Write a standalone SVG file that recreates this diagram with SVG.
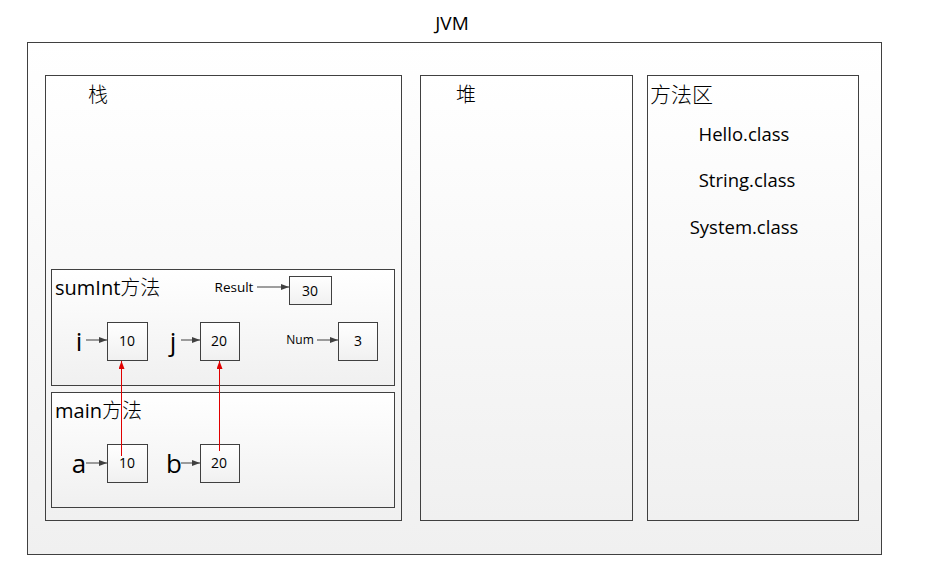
<svg xmlns="http://www.w3.org/2000/svg" width="937" height="583" viewBox="0 0 937 583">
<style>
.box{stroke:#404040;stroke-width:1;fill:url(#g)}
.t{font-family:"Open Sans","Liberation Sans","Noto Sans CJK SC",sans-serif;fill:#000}
.cjk{font-family:"Noto Sans CJK SC",sans-serif;fill:#000;font-weight:300}
.arr{stroke:#404040;stroke-width:1;fill:none;marker-end:url(#ah)}
.red{stroke:#e00000;stroke-width:1;fill:none;marker-end:url(#rh)}
</style>
<defs>
<linearGradient id="g" x1="0" y1="0" x2="0" y2="1">
<stop offset="0" stop-color="#ffffff"/>
<stop offset="1" stop-color="#f0f0f0"/>
</linearGradient>
<marker id="ah" markerWidth="8" markerHeight="6" refX="8" refY="3" orient="auto" markerUnits="userSpaceOnUse">
<path d="M0,0 L8,3 L0,6 z" fill="#404040"/>
</marker>
<marker id="rh" markerWidth="8" markerHeight="6" refX="8" refY="3" orient="auto" markerUnits="userSpaceOnUse">
<path d="M0,0 L8,3 L0,6 z" fill="#e00000"/>
</marker>
</defs>
<rect width="937" height="583" fill="#fff"/>
<text class="t" x="452" y="30" font-size="19" text-anchor="middle">JVM</text>
<g id="jvm"><rect class="box" x="27.5" y="42.5" width="854" height="512"/></g>
<g id="stack"><rect class="box" x="45.5" y="75.5" width="356" height="445"/>
<text class="cjk" x="98" y="102" font-size="20" text-anchor="middle">栈</text></g>
<g id="heap"><rect class="box" x="420.5" y="75.5" width="212" height="445"/>
<text class="cjk" x="466" y="102" font-size="20" text-anchor="middle">堆</text></g>
<g id="method"><rect class="box" x="647.5" y="75.5" width="211" height="445"/>
<text class="cjk" x="650" y="102" font-size="21">方法区</text>
<text class="t" x="744" y="141" font-size="18.5" text-anchor="middle">Hello.class</text>
<text class="t" x="747" y="187" font-size="18.5" text-anchor="middle">String.class</text>
<text class="t" x="744" y="234" font-size="18.5" text-anchor="middle">System.class</text></g>
<g id="sumInt"><rect class="box" x="51.5" y="269.5" width="343" height="116"/>
<text x="55" y="295" font-size="20"><tspan class="t">sumInt</tspan><tspan class="cjk">方法</tspan></text>
<text class="t" x="234" y="292" font-size="13.5" text-anchor="middle">Result</text>
<text class="t" x="300" y="344" font-size="12" text-anchor="middle">Num</text>
<text class="t" x="79" y="351" font-size="26" text-anchor="middle">i</text>
<text class="t" x="173" y="351" font-size="26" text-anchor="middle">j</text></g>
<g id="i10"><rect class="box" x="107.5" y="322.5" width="40" height="38"/><text class="t" x="127" y="346" font-size="14" text-anchor="middle">10</text></g>
<g id="j20"><rect class="box" x="200.5" y="322.5" width="39" height="38"/><text class="t" x="219" y="346" font-size="14" text-anchor="middle">20</text></g>
<g id="r30"><rect class="box" x="289.5" y="276.5" width="42" height="28"/><text class="t" x="310" y="296" font-size="14" text-anchor="middle">30</text></g>
<g id="num3"><rect class="box" x="338.5" y="322.5" width="39" height="38"/><text class="t" x="358" y="346" font-size="14" text-anchor="middle">3</text></g>
<g id="main"><rect class="box" x="51.5" y="392.5" width="343" height="115"/>
<text x="55" y="418" font-size="20"><tspan class="t">main</tspan><tspan class="cjk">方法</tspan></text>
<text class="t" x="79" y="473" font-size="26" text-anchor="middle">a</text>
<text class="t" x="174" y="473" font-size="26" text-anchor="middle">b</text></g>
<g id="a10"><rect class="box" x="107.5" y="444.5" width="40" height="38"/><text class="t" x="127" y="468" font-size="14" text-anchor="middle">10</text></g>
<g id="b20"><rect class="box" x="200.5" y="444.5" width="39" height="38"/><text class="t" x="219" y="468" font-size="14" text-anchor="middle">20</text></g>
<g id="connectors">
<line class="arr" x1="86" y1="340" x2="107" y2="340"/>
<line class="arr" x1="181" y1="340" x2="200" y2="340"/>
<line class="arr" x1="257" y1="287" x2="289" y2="287"/>
<line class="arr" x1="317" y1="340" x2="338" y2="340"/>
<line class="arr" x1="86" y1="463" x2="107" y2="463"/>
<line class="arr" x1="181" y1="463" x2="200" y2="463"/>
<line class="red" x1="121.5" y1="456" x2="121.5" y2="361"/>
<line class="red" x1="219.5" y1="451" x2="219.5" y2="361"/>
</g>
</svg>
